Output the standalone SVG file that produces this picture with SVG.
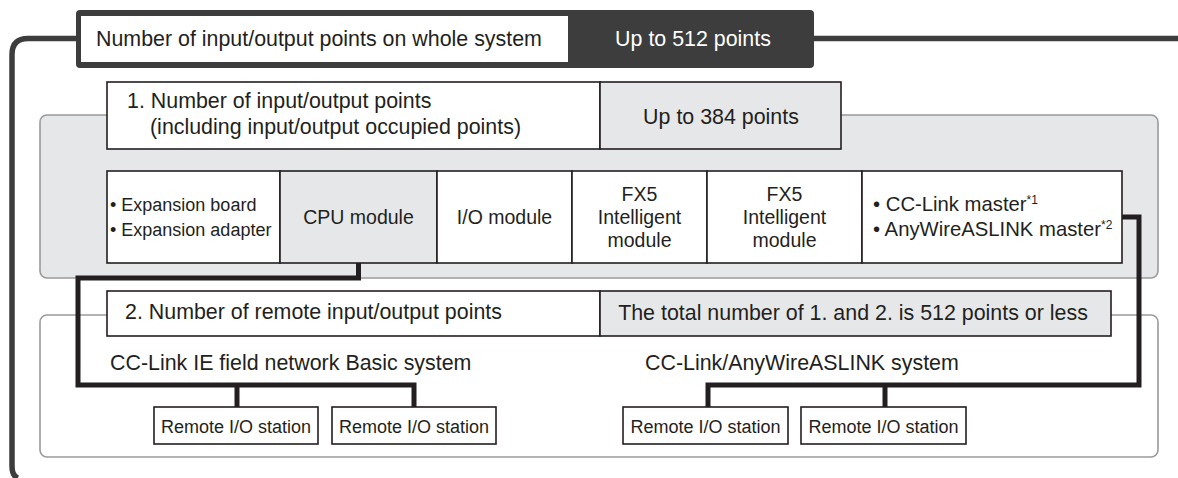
<svg xmlns="http://www.w3.org/2000/svg" width="1178" height="478" viewBox="0 0 1178 478">
<style>
text{font-family:"Liberation Sans",Arial,sans-serif;fill:#231f20}
.t21{font-size:21.4px}
.t20{font-size:20.3px}
.t19{font-size:19.5px}
.t18{font-size:18px}
.mid{text-anchor:middle}
.box{stroke:#231f20;stroke-width:1.6}
.w{fill:#ffffff}
.g{fill:#e6e7e8}
.panel{stroke:#9a9a9a;stroke-width:1.6}
.bar{fill:none;stroke:#231f20;stroke-width:5;stroke-linejoin:miter}
.frame{fill:none;stroke:#3d3d3d;stroke-width:5.5}
.sup{font-size:12px}
</style>

<g id="panel-local">
<rect class="panel g" x="40" y="115" width="1118" height="163" rx="7"/>
</g>
<g id="panel-remote">
<rect class="panel w" x="40" y="315" width="1118" height="142" rx="7"/>
</g>

<g id="frame-lines">
<path class="frame" d="M78,38.5 H28 Q12,38.5 12,54.5 V466 Q12,476 18,478"/>
<path class="frame" d="M812,38.5 H1178"/>
</g>

<g id="header-whole">
<rect x="76" y="10" width="738" height="58" rx="4" fill="#3d3d3d"/>
<rect x="81" y="16" width="487" height="46" fill="#ffffff"/>
<text class="t21" x="96" y="46">Number of input/output points on whole system</text>
<text class="t21 mid" x="693" y="46" style="fill:#ffffff">Up to 512 points</text>
</g>

<g id="header-local">
<rect class="box w" x="107" y="82" width="493" height="67"/>
<rect class="box g" x="600" y="82" width="241" height="67"/>
<text class="t21" x="127" y="108">1. Number of input/output points</text>
<text class="t21" x="150" y="134">(including input/output occupied points)</text>
<text class="t21 mid" x="721" y="124">Up to 384 points</text>
</g>

<g id="module-expansion">
<rect class="box w" x="107" y="171" width="173" height="92"/>
<text class="t18" x="110" y="211">• Expansion board</text>
<text class="t18" x="110" y="236">• Expansion adapter</text>
</g>
<g id="module-cpu">
<rect class="box g" x="280" y="171" width="157" height="92"/>
<text class="t19 mid" x="358.5" y="224">CPU module</text>
</g>
<g id="module-io">
<rect class="box w" x="437" y="171" width="135" height="92"/>
<text class="t19 mid" x="504.5" y="224">I/O module</text>
</g>
<g id="module-fx5-1">
<rect class="box w" x="572" y="171" width="135" height="92"/>
<text class="t19 mid" x="639.5" y="201">FX5</text>
<text class="t19 mid" x="639.5" y="224">Intelligent</text>
<text class="t19 mid" x="639.5" y="247">module</text>
</g>
<g id="module-fx5-2">
<rect class="box w" x="707" y="171" width="155" height="92"/>
<text class="t19 mid" x="784.5" y="201">FX5</text>
<text class="t19 mid" x="784.5" y="224">Intelligent</text>
<text class="t19 mid" x="784.5" y="247">module</text>
</g>
<g id="module-master">
<rect class="box w" x="862" y="171" width="260" height="92"/>
<text class="t20" x="873" y="211">• CC-Link master<tspan class="sup" dy="-7">*1</tspan></text>
<text class="t20" x="873" y="236">• AnyWireASLINK master<tspan class="sup" dy="-7">*2</tspan></text>
</g>

<g id="header-remote">
<rect class="box w" x="107" y="291" width="493" height="45"/>
<rect class="box g" x="600" y="291" width="511" height="45"/>
<text class="t21" x="125" y="319">2. Number of remote input/output points</text>
<text class="t21 mid" x="853" y="320">The total number of 1. and 2. is 512 points or less</text>
</g>

<g id="label-cclink-ie">
<text class="t21" x="110" y="370">CC-Link IE field network Basic system</text>
</g>
<g id="label-cclink-anywire">
<text class="t21" x="645" y="370">CC-Link/AnyWireASLINK system</text>
</g>

<g id="connectors">
<path class="bar" d="M358.5,263 V278 H78 V385 H414 V407"/>
<path class="bar" d="M237,385 V407"/>
<path class="bar" d="M1122,217 H1139 V385 H708 V407"/>
<path class="bar" d="M885,385 V407"/>
</g>

<g id="remote-1">
<rect class="box w" x="154" y="407" width="164" height="37"/>
<text class="t18 mid" x="236" y="433">Remote I/O station</text>
</g>
<g id="remote-2">
<rect class="box w" x="332" y="407" width="164" height="37"/>
<text class="t18 mid" x="414" y="433">Remote I/O station</text>
</g>
<g id="remote-3">
<rect class="box w" x="623" y="407" width="165" height="37"/>
<text class="t18 mid" x="705.5" y="433">Remote I/O station</text>
</g>
<g id="remote-4">
<rect class="box w" x="801" y="407" width="165" height="37"/>
<text class="t18 mid" x="883.5" y="433">Remote I/O station</text>
</g>
</svg>
